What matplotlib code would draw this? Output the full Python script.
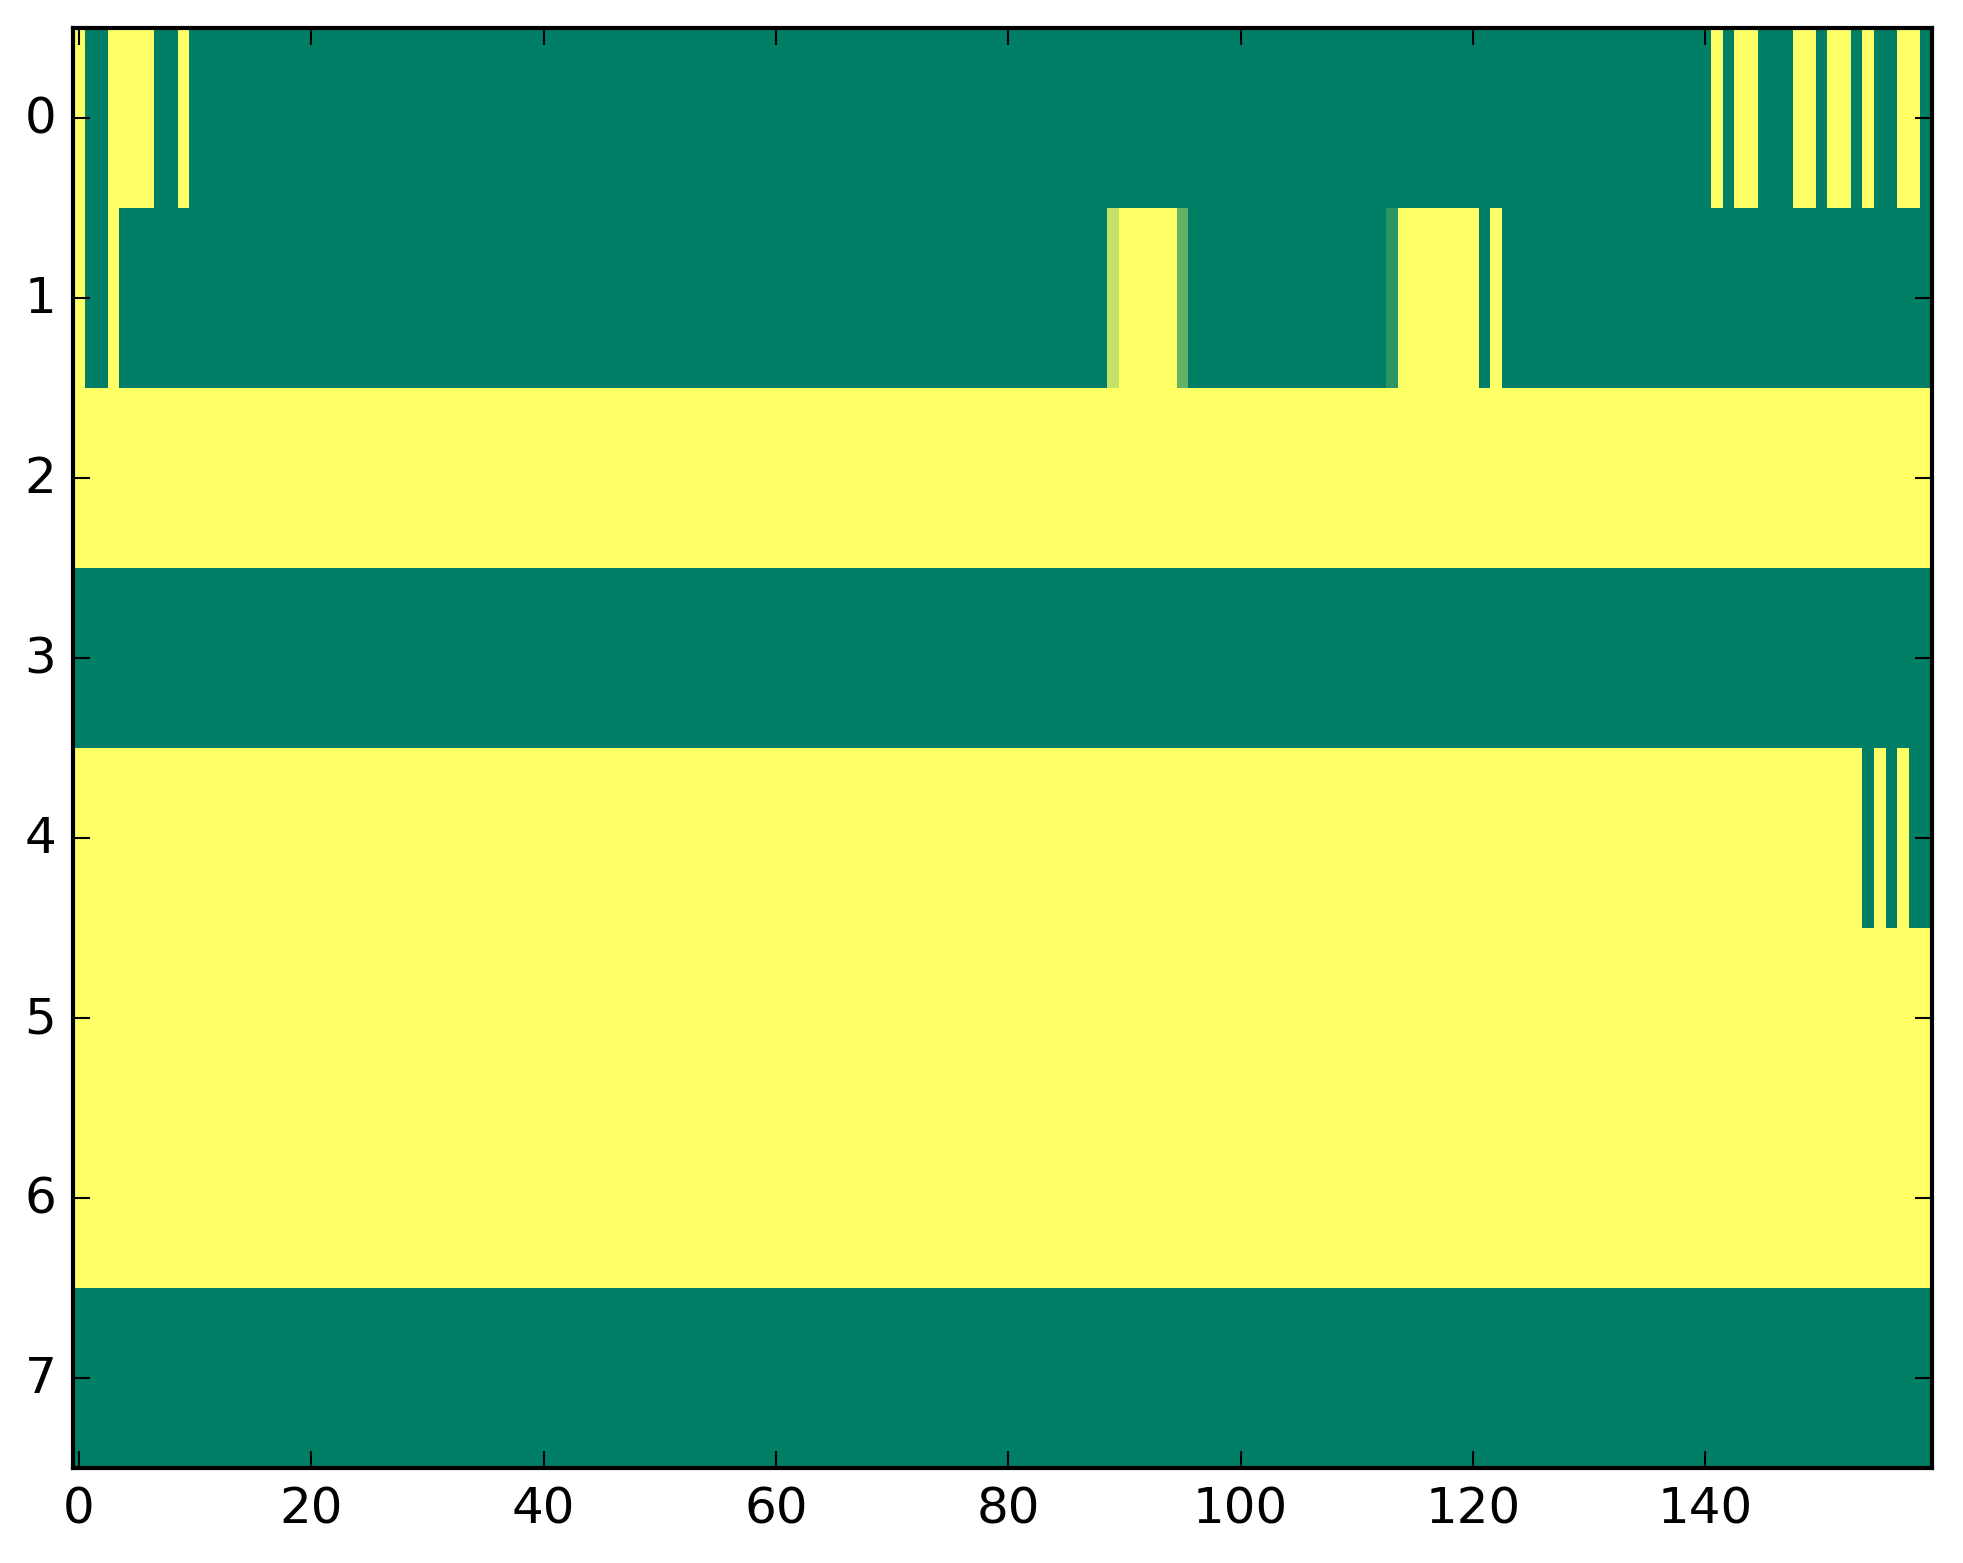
import numpy as np
import matplotlib
matplotlib.use("Agg")
import matplotlib.pyplot as plt

plt.style.use("classic")

# matrix shape
n_rows = 8
n_cols = 160

# columns that are "on" (value 1) in the sparse rows
row0_on = [0, 3, 4, 5, 6, 9, 141, 143, 144, 148, 149, 151, 152, 154, 157, 158]
row1_on = [0, 3, 90, 91, 92, 93, 94, 114, 115, 116, 117, 118, 119, 120, 122]
# fractional cells in row 1
row1_partial_cols = [89, 95, 113]
row1_partial_vals = [0.77, 0.39, 0.17]
# row 4 is mostly on, these columns are off
row4_off = [154, 156, 158, 159]
# fully on / fully off rows
rows_full_on = [2, 5, 6]
rows_full_off = [3, 7]

M = np.zeros((n_rows, n_cols))
M[0, row0_on] = 1.0
M[1, row1_on] = 1.0
M[1, row1_partial_cols] = row1_partial_vals
M[4, :] = 1.0
M[4, row4_off] = 0.0
M[rows_full_on, :] = 1.0
M[rows_full_off, :] = 0.0

fig = plt.figure(figsize=(1963 / 300.0, 1564 / 300.0), dpi=300)
ax = fig.add_axes([0.0372, 0.0607, 0.9470, 0.9207])
ax.imshow(M, cmap="summer", aspect="auto", interpolation="nearest", vmin=0, vmax=1)
ax.set_xticks([0, 20, 40, 60, 80, 100, 120, 140])
ax.set_yticks(range(8))

fig.savefig("out.png", dpi=300)
